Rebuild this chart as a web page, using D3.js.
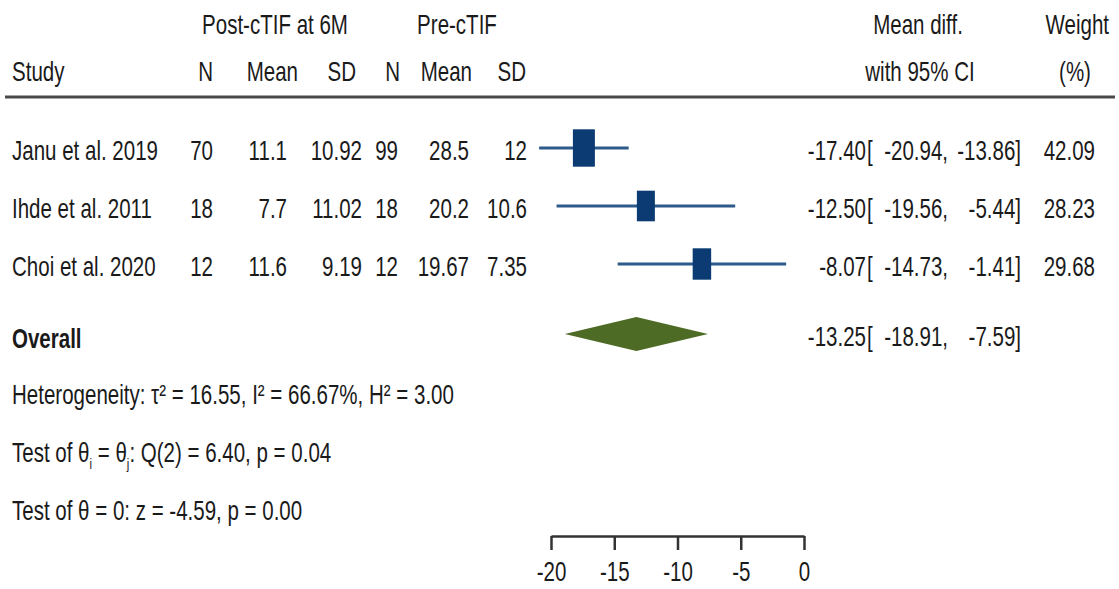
<!DOCTYPE html>
<html><head><meta charset="utf-8">
<script src="https://cdn.jsdelivr.net/npm/d3@7"></script>
<style>
body{margin:0;background:#fff}
svg text{font-family:"Liberation Sans",Arial,sans-serif;fill:#1a1a1a}
</style>
</head><body>
<svg id="c" width="1119" height="589"></svg>
<script>
// ---- data ----
const studies   = ["Janu et al. 2019", "Ihde et al. 2011", "Choi et al. 2020"];
const postN     = [70, 18, 12];
const postMean  = [11.1, 7.7, 11.6];
const postSD    = [10.92, 11.02, 9.19];
const preN      = [99, 18, 12];
const preMean   = [28.5, 20.2, 19.67];
const preSD     = [12, 10.6, 7.35];
const meanDiff  = [-17.40, -12.50, -8.07];
const ciLow     = [-20.94, -19.56, -14.73];
const ciHigh    = [-13.86, -5.44, -1.41];
const weights   = [42.09, 28.23, 29.68];
const overallLabel = "Overall";
const overall   = [-13.25, -18.91, -7.59]; // estimate, low, high
const tickVals  = [-20, -15, -10, -5, 0];
const hetText   = "Heterogeneity: τ² = 16.55, I² = 66.67%, H² = 3.00";
const q2Text    = ": Q(2) = 6.40, p = 0.04";
const zText     = "Test of θ = 0: z = -4.59, p = 0.00";

// ---- setup ----
const FS = 27, SX = 0.76;
const svg = d3.select("#c");
function txt(x, y, s, anchor = "start", bold = false) {
  const t = svg.append("text")
    .attr("transform", `translate(${x},${y}) scale(${SX},1)`)
    .attr("text-anchor", anchor)
    .attr("font-size", FS)
    .attr("dy", "0.36em");
  if (bold) t.attr("font-weight", "bold");
  if (s !== null) t.text(s);
  return t;
}

const x = d3.scaleLinear().domain([-20, 0]).range([551, 804]);
const y = d3.scalePoint().domain(studies).range([148, 264]);
const yOverall = 334;
const fmt2 = v => v.toFixed(2);

// ---- headers ----
txt(275, 24, "Post-cTIF at 6M", "middle");
txt(457, 24, "Pre-cTIF", "middle");
txt(918, 24, "Mean diff.", "middle");
txt(1109, 24, "Weight", "end");
txt(12, 71, "Study");
const hdrCols = [["N", 213], ["Mean", 298], ["SD", 356], ["N", 400], ["Mean", 472], ["SD", 526]];
hdrCols.forEach(([s, xx]) => txt(xx, 71, s, "end"));
txt(920, 71, "with 95% CI", "middle");
txt(1075, 71, "(%)", "middle");

svg.append("line").attr("x1", 5).attr("x2", 1115).attr("y1", 97).attr("y2", 97)
  .attr("stroke", "#4a4a4a").attr("stroke-width", 3);

// ---- study rows ----
function ciText(yy, est, lo, hi) {
  txt(866, yy, fmt2(est), "end");
  txt(867, yy, "[");
  txt(948, yy, fmt2(lo) + ",", "end");
  txt(1021, yy, fmt2(hi) + "]", "end");
}
studies.forEach((s, i) => {
  const yy = y(s) + 2;
  txt(12, yy, s);
  txt(213, yy, String(postN[i]), "end");
  txt(287, yy, String(postMean[i]), "end");
  txt(362, yy, String(postSD[i]), "end");
  txt(398, yy, String(preN[i]), "end");
  txt(469, yy, String(preMean[i]), "end");
  txt(527, yy, String(preSD[i]), "end");
  ciText(yy, meanDiff[i], ciLow[i], ciHigh[i]);
  txt(1095, yy, fmt2(weights[i]), "end");
});

// CI lines
svg.selectAll(".ci").data(studies).join("line")
  .attr("x1", (d, i) => x(ciLow[i])).attr("x2", (d, i) => x(ciHigh[i]))
  .attr("y1", d => y(d)).attr("y2", d => y(d))
  .attr("stroke", "#2d5a8b").attr("stroke-width", 3);
// squares (area ~ weight)
const side = w => 3.39 * Math.sqrt(w);
svg.selectAll(".sq").data(studies).join("rect")
  .attr("x", (d, i) => x(meanDiff[i]) - side(weights[i]) / 2)
  .attr("y", (d, i) => y(d) - side(weights[i]) * 0.85)
  .attr("width", (d, i) => side(weights[i]))
  .attr("height", (d, i) => side(weights[i]) * 1.7)
  .attr("fill", "#0b3b72");

// ---- overall ----
txt(12, yOverall + 4, overallLabel, "start", true);
svg.append("polygon")
  .attr("points", [[x(overall[1]), yOverall], [x(overall[0]), yOverall - 17],
                   [x(overall[2]), yOverall], [x(overall[0]), yOverall + 17]].map(p => p.join(",")).join(" "))
  .attr("fill", "#4d6b24");
ciText(yOverall + 2, overall[0], overall[1], overall[2]);

// ---- stats text ----
txt(12, 394, hetText);
const t2 = txt(12, 452, null);
t2.append("tspan").text("Test of θ");
t2.append("tspan").attr("font-size", 15).attr("dy", 7).text("i");
t2.append("tspan").attr("dy", -7).text(" = θ");
t2.append("tspan").attr("font-size", 15).attr("dy", 7).text("j");
t2.append("tspan").attr("dy", -7).text(q2Text);
txt(12, 510, zText);

// ---- axis ----
const ax = svg.append("g").attr("transform", "translate(0,536)")
  .call(d3.axisBottom(x).tickValues(tickVals).tickSize(14).tickSizeOuter(0).tickFormat(d => String(d)));
ax.attr("font-family", null).attr("font-size", null);
ax.select(".domain").attr("stroke", "#333").attr("stroke-width", 2.5);
ax.selectAll(".tick line").attr("stroke", "#333").attr("stroke-width", 2.5);
ax.selectAll(".tick text").attr("y", 35).attr("dy", "0.36em")
  .attr("font-size", FS).attr("transform", `scale(${SX},1)`).attr("fill", "#1a1a1a");
</script>
</body></html>
